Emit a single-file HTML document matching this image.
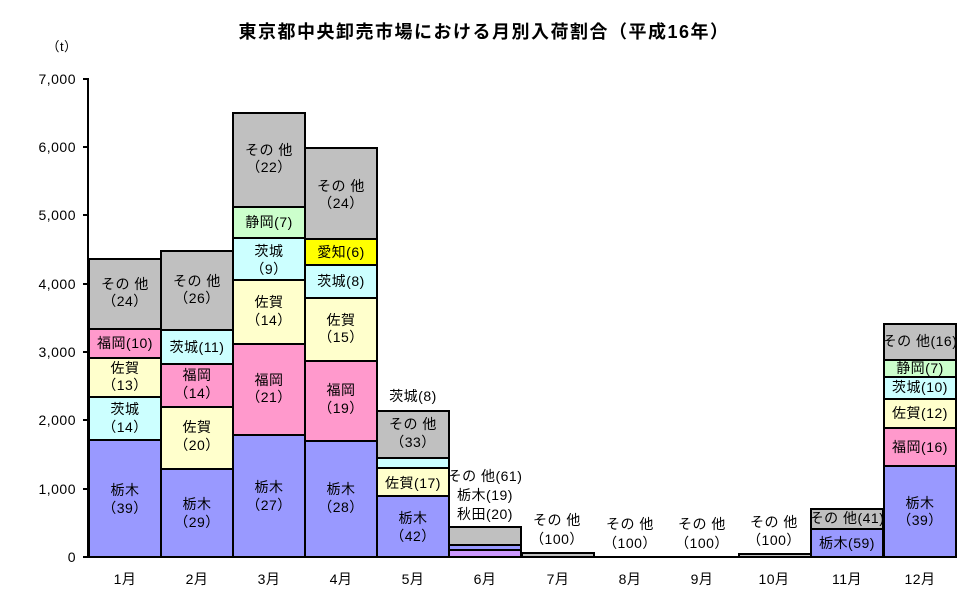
<!DOCTYPE html>
<html><head><meta charset="utf-8"><style>
html,body{margin:0;padding:0;background:#fff}
svg{display:block}
text{font-family:"Liberation Sans","Noto Sans CJK JP",sans-serif;font-size:14px;fill:#000;letter-spacing:0.5px}
</style></head><body>
<svg width="970" height="604" viewBox="0 0 970 604" xmlns="http://www.w3.org/2000/svg">
<text x="484" y="38" text-anchor="middle" style="font-size:18px;font-weight:bold;letter-spacing:1.5px">東京都中央卸売市場における月別入荷割合（平成16年）</text>
<text x="62" y="51" text-anchor="middle" style="font-size:13px">（t）</text>
<g text-anchor="end" style="font-size:13px;letter-spacing:0">
<text x="76" y="562">0</text><text x="76" y="494">1,000</text><text x="76" y="425">2,000</text>
<text x="76" y="357">3,000</text><text x="76" y="289">4,000</text><text x="76" y="220">5,000</text>
<text x="76" y="152">6,000</text><text x="76" y="84">7,000</text>
</g>
<g stroke="#000" stroke-width="2">
<rect x="89" y="440" width="72" height="117" fill="#9999ff"/>
<rect x="89" y="397" width="72" height="43" fill="#ccffff"/>
<rect x="89" y="358" width="72" height="39" fill="#ffffcc"/>
<rect x="89" y="329" width="72" height="29" fill="#ff99cc"/>
<rect x="89" y="259" width="72" height="70" fill="#c0c0c0"/>
<rect x="161" y="469" width="72" height="88" fill="#9999ff"/>
<rect x="161" y="407" width="72" height="62" fill="#ffffcc"/>
<rect x="161" y="364" width="72" height="43" fill="#ff99cc"/>
<rect x="161" y="330" width="72" height="34" fill="#ccffff"/>
<rect x="161" y="251" width="72" height="79" fill="#c0c0c0"/>
<rect x="233" y="435" width="72" height="122" fill="#9999ff"/>
<rect x="233" y="344" width="72" height="91" fill="#ff99cc"/>
<rect x="233" y="280" width="72" height="64" fill="#ffffcc"/>
<rect x="233" y="238" width="72" height="42" fill="#ccffff"/>
<rect x="233" y="207" width="72" height="31" fill="#ccffcc"/>
<rect x="233" y="113" width="72" height="94" fill="#c0c0c0"/>
<rect x="305" y="441" width="72" height="116" fill="#9999ff"/>
<rect x="305" y="361" width="72" height="80" fill="#ff99cc"/>
<rect x="305" y="298" width="72" height="63" fill="#ffffcc"/>
<rect x="305" y="265" width="72" height="33" fill="#ccffff"/>
<rect x="305" y="239" width="72" height="26" fill="#ffff00"/>
<rect x="305" y="148" width="72" height="91" fill="#c0c0c0"/>
<rect x="377" y="496" width="72" height="61" fill="#9999ff"/>
<rect x="377" y="468" width="72" height="28" fill="#ffffcc"/>
<rect x="377" y="458" width="72" height="10" fill="#ccffff"/>
<rect x="377" y="411" width="72" height="47" fill="#c0c0c0"/>
<rect x="449" y="550" width="72" height="7" fill="#cc99ff"/>
<rect x="449" y="545" width="72" height="5" fill="#9999ff"/>
<rect x="449" y="527" width="72" height="18" fill="#c0c0c0"/>
<rect x="522" y="553" width="72" height="4" fill="#c0c0c0"/>
<rect x="739" y="554" width="72" height="3" fill="#c0c0c0"/>
<rect x="811" y="529" width="72" height="28" fill="#9999ff"/>
<rect x="811" y="509" width="72" height="20" fill="#c0c0c0"/>
<rect x="884" y="466" width="72" height="91" fill="#9999ff"/>
<rect x="884" y="428" width="72" height="38" fill="#ff99cc"/>
<rect x="884" y="399" width="72" height="29" fill="#ffffcc"/>
<rect x="884" y="377" width="72" height="22" fill="#ccffff"/>
<rect x="884" y="360" width="72" height="17" fill="#ccffcc"/>
<rect x="884" y="324" width="72" height="36" fill="#c0c0c0"/>
</g>
<g stroke="#000" stroke-width="2" fill="none">
<line x1="88" y1="78" x2="88" y2="558"/>
<line x1="87" y1="557" x2="957" y2="557"/>
<line x1="83" y1="79" x2="88" y2="79"/><line x1="83" y1="147" x2="88" y2="147"/>
<line x1="83" y1="215" x2="88" y2="215"/><line x1="83" y1="284" x2="88" y2="284"/>
<line x1="83" y1="352" x2="88" y2="352"/><line x1="83" y1="420" x2="88" y2="420"/>
<line x1="83" y1="489" x2="88" y2="489"/><line x1="83" y1="557" x2="88" y2="557"/>
</g>
<g text-anchor="middle">
<text x="125" y="495">栃木</text><text x="125" y="513">（39）</text>
<text x="125" y="414">茨城</text><text x="125" y="432">（14）</text>
<text x="125" y="373">佐賀</text><text x="125" y="390">（13）</text>
<text x="125" y="348">福岡(10)</text>
<text x="125" y="289">その 他</text><text x="125" y="306">（24）</text>
<text x="197" y="509">栃木</text><text x="197" y="527">（29）</text>
<text x="197" y="432">佐賀</text><text x="197" y="450">（20）</text>
<text x="197" y="380">福岡</text><text x="197" y="398">（14）</text>
<text x="197" y="352">茨城(11)</text>
<text x="197" y="286">その 他</text><text x="197" y="303">（26）</text>
<text x="269" y="492">栃木</text><text x="269" y="510">（27）</text>
<text x="269" y="385">福岡</text><text x="269" y="402">（21）</text>
<text x="269" y="307">佐賀</text><text x="269" y="325">（14）</text>
<text x="269" y="256">茨城</text><text x="269" y="274">（9）</text>
<text x="269" y="227">静岡(7)</text>
<text x="269" y="155">その 他</text><text x="269" y="172">（22）</text>
<text x="341" y="494">栃木</text><text x="341" y="512">（28）</text>
<text x="341" y="395">福岡</text><text x="341" y="413">（19）</text>
<text x="341" y="325">佐賀</text><text x="341" y="342">（15）</text>
<text x="341" y="286">茨城(8)</text>
<text x="341" y="257">愛知(6)</text>
<text x="341" y="191">その 他</text><text x="341" y="208">（24）</text>
<text x="413" y="523">栃木</text><text x="413" y="541">（42）</text>
<text x="413" y="488">佐賀(17)</text>
<text x="413" y="429">その 他</text><text x="413" y="447">（33）</text>
<text x="413" y="401">茨城(8)</text>
<text x="485" y="481">その 他(61)</text>
<text x="485" y="500">栃木(19)</text>
<text x="485" y="519">秋田(20)</text>
<text x="557" y="525">その 他</text><text x="557" y="544">（100）</text>
<text x="630" y="529">その 他</text><text x="630" y="548">（100）</text>
<text x="702" y="529">その 他</text><text x="702" y="548">（100）</text>
<text x="774" y="527">その 他</text><text x="774" y="545">（100）</text>
<text x="847" y="523">その 他(41)</text>
<text x="847" y="548">栃木(59)</text>
<text x="920" y="508">栃木</text><text x="920" y="525">（39）</text>
<text x="920" y="452">福岡(16)</text>
<text x="920" y="418">佐賀(12)</text>
<text x="920" y="392">茨城(10)</text>
<text x="920" y="373">静岡(7)</text>
<text x="920" y="346">その 他(16)</text>
<text x="125" y="584">1月</text><text x="197" y="584">2月</text><text x="269" y="584">3月</text>
<text x="341" y="584">4月</text><text x="413" y="584">5月</text><text x="485" y="584">6月</text>
<text x="558" y="584">7月</text><text x="630" y="584">8月</text><text x="702" y="584">9月</text>
<text x="774" y="584">10月</text><text x="847" y="584">11月</text><text x="920" y="584">12月</text>
</g>
</svg>
</body></html>
